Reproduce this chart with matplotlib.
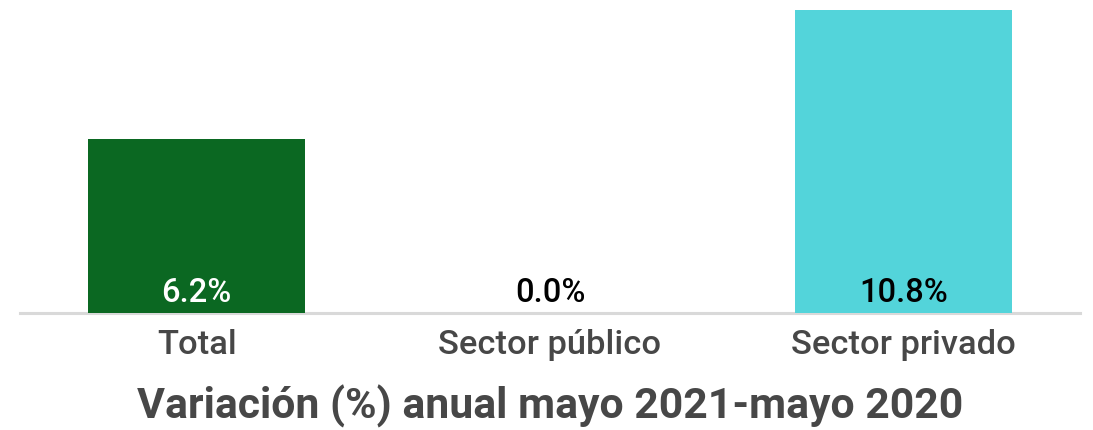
import matplotlib.pyplot as plt

plt.rcParams['font.family'] = ['Roboto', 'DejaVu Sans']

categories = ["Total", "Sector público", "Sector privado"]
values = [6.2, 0.0, 10.8]
bar_colors = ["#0b6822", "#53d4da", "#53d4da"]
label_colors = ["white", "black", "black"]
title = "Variación (%) anual mayo 2021-mayo 2020"

fig = plt.figure(figsize=(10.93, 4.30), dpi=100)
ax = fig.add_axes([20 / 1093, 117.5 / 430, 1060 / 1093, 302.5 / 430])

x = range(len(categories))
ax.bar(x, values, width=0.615, color=bar_colors, zorder=2)

for i, v in enumerate(values):
    ax.annotate(f"{v:.1f}%", (i, 0), xytext=(0, 7.5), textcoords="offset points",
                ha="center", va="baseline", fontsize=23.5, fontweight="medium",
                color=label_colors[i], zorder=3)

ax.set_xlim(-0.5, 2.5)
ax.set_ylim(0, 10.8)
ax.set_xticks(list(x))
ax.set_xticklabels(categories, fontsize=24.8, fontweight="medium", color="#474747")
ax.tick_params(axis="x", length=0, pad=12)
ax.set_yticks([])
for s in ["top", "right", "left"]:
    ax.spines[s].set_visible(False)
ax.spines["bottom"].set_color("#d9d9d9")
ax.spines["bottom"].set_linewidth(2.2)
ax.spines["bottom"].set_zorder(1)

ax.set_xlabel(title, fontsize=30.8, fontweight="bold", color="#474747", labelpad=17)

fig.savefig("out.png", dpi=100)
